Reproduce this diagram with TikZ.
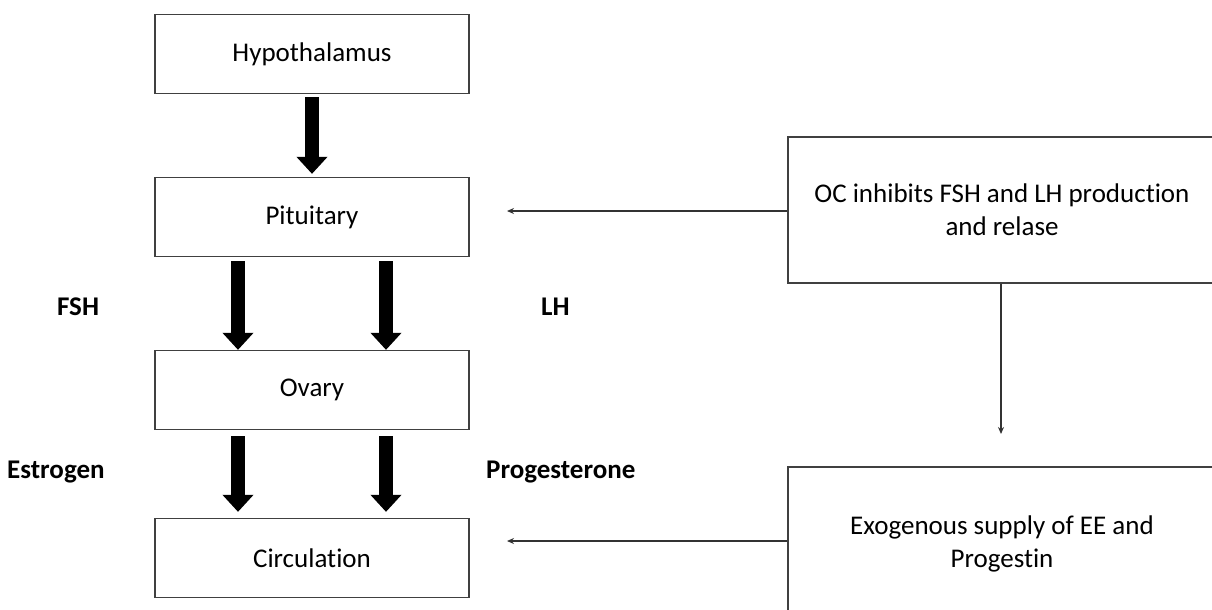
\documentclass[tikz,border=0pt]{standalone}
\usepackage{fontspec}
\setmainfont{Carlito}[Ligatures=NoCommon]
\usetikzlibrary{arrows.meta,positioning}
\begin{document}
\begin{tikzpicture}[x=1pt,y=-1pt,
  box/.style={draw=black!75,line width=1.3pt,minimum width=314pt,minimum height=79pt,inner sep=0pt,font=\fontsize{27}{32}\selectfont,align=center},
  sidebox/.style={draw=black!75,line width=1.3pt,minimum width=428pt,inner sep=0pt,font=\fontsize{27}{33}\selectfont,align=center},
  bigarrow/.style={line width=14pt,-{Triangle[width=30pt,length=17pt]}},
  thinarrow/.style={draw=black!80,line width=1.3pt,-{Stealth[length=7pt,width=6pt]}},
  lbl/.style={font=\fontsize{27}{32}\selectfont\bfseries,anchor=base west,inner sep=0pt}
]
\useasboundingbox (0,0) rectangle (1212,610);
\node[box] (hyp) at (312,54) {Hypothalamus};
\node[box] (pit) at (312,217) {Pituitary};
\node[box] (ova) at (312,390) {Ovary};
\node[box] (cir) at (312,558) {Circulation};
\node[sidebox,minimum height=146pt] (oc) at (1002,210) {OC inhibits FSH and LH production\\and relase};
\node[sidebox,minimum height=154pt] (exo) at (1002,544) {Exogenous supply of EE and\\Progestin};
\coordinate (ocend) at (507,211);
\coordinate (exoend) at (507,541);
\coordinate (ocdown) at (1001,434);

\draw[bigarrow] ([yshift=-3pt]hyp.south) -- ([yshift=3pt]pit.north);
\draw[bigarrow] ([xshift=-74pt,yshift=-4pt]pit.south) -- ([xshift=-74pt,yshift=0pt]ova.north);
\draw[bigarrow] ([xshift=74pt,yshift=-4pt]pit.south) -- ([xshift=74pt,yshift=0pt]ova.north);
\draw[bigarrow] ([xshift=-74pt,yshift=-6pt]ova.south) -- ([xshift=-74pt,yshift=6pt]cir.north);
\draw[bigarrow] ([xshift=74pt,yshift=-6pt]ova.south) -- ([xshift=74pt,yshift=6pt]cir.north);

\draw[thinarrow] (oc.west |- ocend) -- (ocend);
\draw[thinarrow] (exo.west |- exoend) -- (exoend);
\draw[thinarrow] ([xshift=-1pt]oc.south) -- (ocdown);

\node[lbl] (fsh) at (57,315) {FSH};
\node[lbl] (lh) at (541,315) {LH};
\node[lbl] (est) at (7,478) {Estrogen};
\node[lbl] (pro) at (486,478) {Progesterone};
\end{tikzpicture}
\end{document}
